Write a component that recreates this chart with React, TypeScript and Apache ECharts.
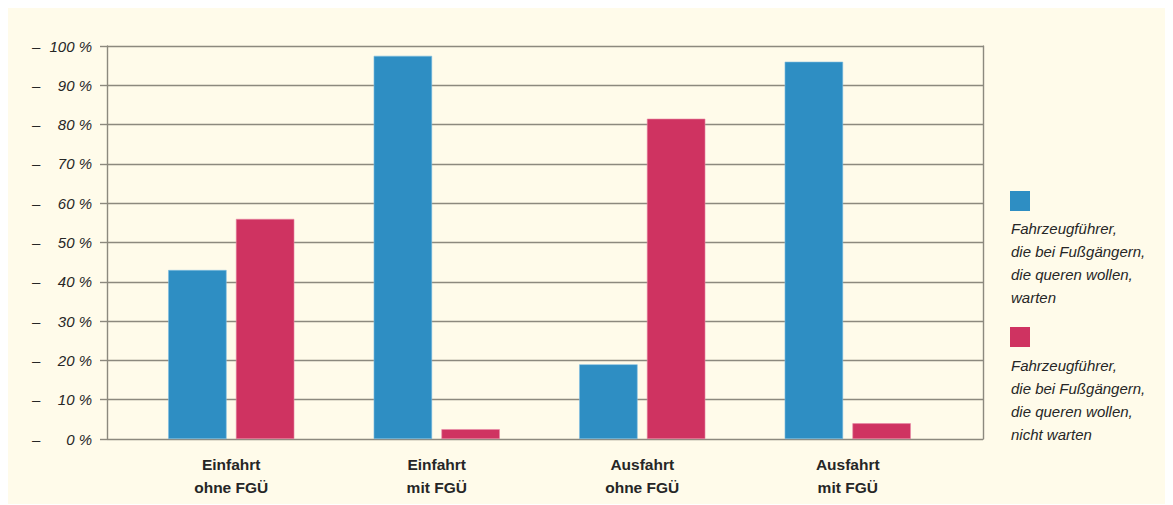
import React, { useEffect, useRef } from "react";
import * as echarts from "echarts";

const categories = ["Einfahrt\nohne FGÜ", "Einfahrt\nmit FGÜ", "Ausfahrt\nohne FGÜ", "Ausfahrt\nmit FGÜ"];
const waitingValues = [43, 97.5, 19, 96];
const notWaitingValues = [56, 2.5, 81.5, 4];
const yTickLabels = ["0 %", "10 %", "20 %", "30 %", "40 %", "50 %", "60 %", "70 %", "80 %", "90 %", "100 %"];
const legendWaiting = "Fahrzeugführer,\ndie bei Fußgängern,\ndie queren wollen,\nwarten";
const legendNotWaiting = "Fahrzeugführer,\ndie bei Fußgängern,\ndie queren wollen,\nnicht warten";

const BLUE = "#2e8ec3";
const RED = "#cf3361";
const BG = "#fffbea";
const LINE = "#8c897e";
const TEXT = "#262626";
const FONT = "'Liberation Sans', Arial, Helvetica, sans-serif";

export default function App() {
  const ref = useRef<HTMLDivElement>(null);
  useEffect(() => {
    document.body.style.overflow = "hidden";
    if (!ref.current) return;
    const chart = echarts.init(ref.current, undefined, { renderer: "svg" });
    chart.setOption({
      animation: false,
      backgroundColor: BG,
      textStyle: { fontFamily: FONT },
      grid: [
        { left: 99, top: 38, width: 876, height: 393 },
        { left: 120.5, top: 38, width: 822, height: 393 },
      ],
      xAxis: [
        { type: "value", gridIndex: 0, min: 0, max: 1, show: false },
        {
          type: "category",
          gridIndex: 1,
          data: categories,
          axisLine: { show: false },
          axisTick: { show: false },
          axisLabel: {
            margin: 14,
            fontFamily: FONT,
            fontWeight: "bold",
            fontSize: 15.5,
            lineHeight: 23,
            color: TEXT,
            align: "center",
          },
        },
      ],
      yAxis: [
        {
          type: "value",
          gridIndex: 0,
          min: 0,
          max: 100,
          interval: 10,
          axisLine: { show: true, lineStyle: { color: LINE, width: 1.4 } },
          axisTick: { show: true, length: 7, lineStyle: { color: LINE, width: 1.4 } },
          splitLine: { show: true, lineStyle: { color: LINE, width: 1.4 } },
          axisLabel: {
            margin: 15,
            formatter: (v: number) => `{d|–}{n|${yTickLabels[Math.round(v / 10)]}}`,
            rich: {
              d: { width: 16, align: "left", fontSize: 15, fontStyle: "italic", color: TEXT, fontFamily: FONT },
              n: { width: 44, align: "right", fontSize: 15, fontStyle: "italic", color: TEXT, fontFamily: FONT },
            },
          },
        },
        {
          type: "value",
          gridIndex: 0,
          position: "right",
          min: 0,
          max: 100,
          interval: 10,
          axisLine: { show: true, lineStyle: { color: LINE, width: 1.4 } },
          axisTick: { show: false },
          axisLabel: { show: false },
          splitLine: { show: false },
        },
        { type: "value", gridIndex: 1, min: 0, max: 100, interval: 10, show: false, splitLine: { show: false } },
      ],
      series: [
        {
          name: "warten",
          type: "bar",
          xAxisIndex: 1,
          yAxisIndex: 2,
          data: waitingValues,
          barWidth: 58.4,
          barGap: "16%",
          itemStyle: { color: BLUE, borderColor: "#7fbde0", borderWidth: 0.6 },
        },
        {
          name: "nicht warten",
          type: "bar",
          xAxisIndex: 1,
          yAxisIndex: 2,
          data: notWaitingValues,
          barWidth: 58.4,
          barGap: "16%",
          itemStyle: { color: RED, borderColor: "#e88aa6", borderWidth: 0.6 },
        },
      ],
      graphic: [
        { type: "rect", left: 1002, top: 183, shape: { width: 20, height: 20 }, style: { fill: BLUE } },
        {
          type: "text",
          left: 1003,
          top: 209,
          style: { text: legendWaiting, fontFamily: FONT, fontSize: 15, fontStyle: "italic", lineHeight: 23, fill: TEXT },
        },
        { type: "rect", left: 1002, top: 319, shape: { width: 20, height: 20 }, style: { fill: RED } },
        {
          type: "text",
          left: 1003,
          top: 345.5,
          style: { text: legendNotWaiting, fontFamily: FONT, fontSize: 15, fontStyle: "italic", lineHeight: 23, fill: TEXT },
        },
      ],
    });
    return () => chart.dispose();
  }, []);
  return <div ref={ref} style={{ width: 1165, height: 496, background: BG }} />;
}
